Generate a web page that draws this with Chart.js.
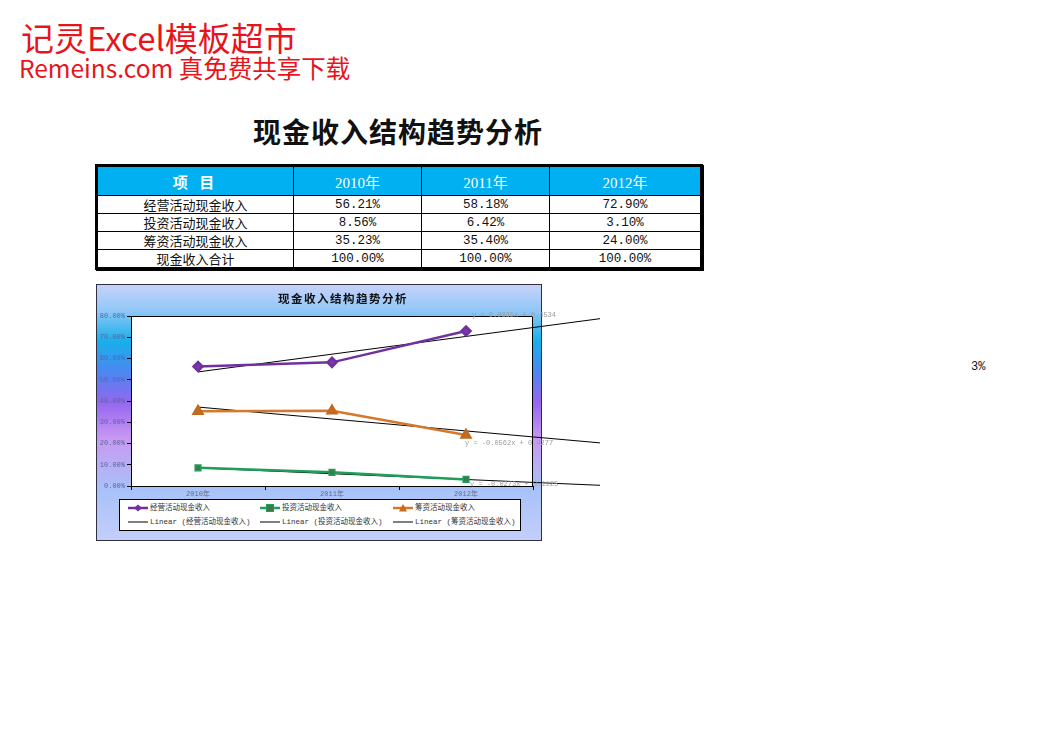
<!DOCTYPE html>
<html>
<head>
<meta charset="utf-8">
<script src="https://cdn.jsdelivr.net/npm/chart.js@4.4.1/dist/chart.umd.min.js"></script>
<style>
  body { margin:0; width:1058px; height:755px; background:#fff; position:relative; overflow:hidden; font-family:"Noto Sans CJK SC", sans-serif; }
  .brand1 { position:absolute; left:21px; top:21px; font-size:33px; color:#e8141c; line-height:33px; white-space:nowrap; }
  .brand2 { position:absolute; left:19px; top:56px; font-size:24.5px; color:#e8141c; line-height:24px; white-space:nowrap; }
  .title { position:absolute; left:253px; top:112px; font-size:28px; font-weight:bold; color:#111; line-height:38px; white-space:nowrap; letter-spacing:1px; }
  #tbl { position:absolute; left:95px; top:164px; border-collapse:collapse; table-layout:fixed; border:3px solid #000; box-shadow:1px 1px 0 #000; }
  #tbl th { background:#00b0f0; color:#fff; font-weight:normal; height:28px; font-size:15px; font-family:"Liberation Serif","Noto Sans CJK SC",serif; border:1px solid #000; padding:0; }
  #tbl th.first { font-family:"Noto Sans CJK SC"; font-weight:bold; letter-spacing:4px; }
  #tbl td { height:17px; padding:0; border:1px solid #000; text-align:center; font-size:13px; line-height:16px; color:#111; }
  #tbl td.num { font-family:"Liberation Mono", monospace; font-size:12.5px; }
  #wrap { position:absolute; left:96px; top:284px; width:514px; height:262px; }
  #legend { position:absolute; left:119px; top:499px; width:400px; height:30px; background:#fff; border:1px solid #000; }
  .li { position:absolute; font-size:7.5px; color:#333; font-family:"Liberation Mono","Noto Sans CJK SC",monospace; white-space:nowrap; line-height:10px; }
  .li svg { position:absolute; left:0; top:0; }
  .li span { position:absolute; left:22px; top:0; }
  .three { position:absolute; left:971px; top:360px; font-family:"Liberation Mono", monospace; font-size:12px; color:#111; }
</style>
</head>
<body>
<div class="brand1">记灵Excel模板超市</div>
<div class="brand2">Remeins.com 真免费共享下载</div>
<div class="title">现金收入结构趋势分析</div>
<table id="tbl"></table>
<div id="wrap"><canvas id="mycanvas" width="514" height="262"></canvas></div>
<div id="legend"></div>
<div class="three">3%</div>
<script>
// table / chart data
var years = ['2010年', '2011年', '2012年'];
var items = ['经营活动现金收入', '投资活动现金收入', '筹资活动现金收入', '现金收入合计'];
var operating = [56.21, 58.18, 72.90];
var investing = [8.56, 6.42, 3.10];
var financing = [35.23, 35.40, 24.00];
var totals = [100.00, 100.00, 100.00];

// linear trendlines, start at 2010 and run one period past 2012 (x = 1 and x = 4)
var trendX = [1, 4];
var operatingTrend = [53.69, 78.74];
var investingTrend = [8.52, 0.33];
var financingTrend = [37.15, 20.29];
var trendLabels = ['y = 0.0835x + 0.4534', 'y = -0.0562x + 0.4277', 'y = -0.0273x + 0.1125'];

var colors = ['#7030a0', '#1f9e5a', '#d4782c'];

// build the table
var colW = [197, 128, 128, 152];
var html = '<colgroup>';
colW.forEach(function (w) { html += '<col style="width:' + w + 'px">'; });
html += '</colgroup><tr><th class="first">项 目</th>';
years.forEach(function (y) { html += '<th>' + y + '</th>'; });
html += '</tr>';
var rows = [operating, investing, financing, totals];
for (var r = 0; r < rows.length; r++) {
  html += '<tr><td>' + items[r] + '</td>';
  for (var c = 0; c < years.length; c++) {
    html += '<td class="num">' + rows[r][c].toFixed(2) + '%</td>';
  }
  html += '</tr>';
}
document.getElementById('tbl').innerHTML = html;

// legend
var markers = [
  '<polygon points="10,1.5 14,5 10,8.5 6,5" fill="#7030a0"/>',
  '<rect x="6.5" y="1.5" width="7" height="7" fill="#3c7a4c" stroke="#1f9e5a"/>',
  '<polygon points="10,1 14,8.5 6,8.5" fill="#c86a20"/>'
];
var legendHtml = '';
var colX = [8, 140, 273];
for (var i = 0; i < 3; i++) {
  legendHtml += '<div class="li" style="left:' + colX[i] + 'px;top:3px">' +
    '<svg width="20" height="10"><line x1="0" y1="5" x2="20" y2="5" stroke="' + colors[i] + '" stroke-width="2.5"/>' + markers[i] + '</svg>' +
    '<span>' + items[i] + '</span></div>';
  legendHtml += '<div class="li" style="left:' + colX[i] + 'px;top:17px">' +
    '<svg width="20" height="10"><line x1="0" y1="5" x2="20" y2="5" stroke="#000" stroke-width="1"/></svg>' +
    '<span>Linear (' + items[i] + ')</span></div>';
}
document.getElementById('legend').innerHTML = legendHtml;

// background box, plot area and trendline equations
var boxPlugin = {
  id: 'box',
  beforeDraw: function (chart) {
    var ctx = chart.ctx, a = chart.chartArea;
    var W = 446, H = 257;
    var g = ctx.createLinearGradient(0, 0, 0, H);
    g.addColorStop(0, '#c8d2fa');
    g.addColorStop(0.1, '#94c8f8');
    g.addColorStop(0.22, '#18b0ea');
    g.addColorStop(0.34, '#4a88f0');
    g.addColorStop(0.46, '#9466f0');
    g.addColorStop(0.6, '#c898f2');
    g.addColorStop(0.8, '#a8c2f8');
    g.addColorStop(1, '#c4cefa');
    ctx.save();
    ctx.fillStyle = g;
    ctx.fillRect(0, 0, W, H);
    ctx.strokeStyle = '#303040';
    ctx.lineWidth = 1;
    ctx.strokeRect(0.5, 0.5, W - 1, H - 1);
    ctx.fillStyle = '#fff';
    ctx.fillRect(a.left, a.top, a.right - a.left, a.bottom - a.top);
    ctx.fillStyle = '#111';
    ctx.font = 'bold 11.5px "Noto Sans CJK SC"';
    ctx.letterSpacing = '1.5px';
    ctx.textBaseline = 'middle';
    ctx.fillText('现金收入结构趋势分析', 182, 15);
    ctx.restore();
  },
  afterDraw: function (chart) {
    var ctx = chart.ctx, a = chart.chartArea;
    ctx.save();
    ctx.strokeStyle = '#000';
    ctx.lineWidth = 1;
    ctx.strokeRect(a.left + 0.5, a.top + 0.5, a.right - a.left - 1, a.bottom - a.top);
    ctx.font = '7px "Liberation Mono", monospace';
    ctx.fillStyle = '#9a9a9a';
    ctx.textBaseline = 'middle';
    ctx.fillText(trendLabels[0], 376, 31);
    ctx.fillText(trendLabels[1], 369, 159);
    ctx.fillText(trendLabels[2], 374, 200);
    ctx.restore();
  }
};

function trendData(vals) {
  return trendX.map(function (x, k) { return { x: x, y: vals[k] }; });
}

var ctx = document.getElementById('mycanvas');
var chart = new Chart(ctx, {
  type: 'line',
  data: {
    labels: years,
    datasets: [
      { label: items[0], data: operating, borderColor: colors[0], backgroundColor: '#7030a0', borderWidth: 2.5,
        pointStyle: 'rectRot', pointRadius: 4.5, pointBorderColor: '#7030a0', pointBackgroundColor: '#7a3aa8', xAxisID: 'x' },
      { label: items[1], data: investing, borderColor: colors[1], borderWidth: 2.5,
        pointStyle: 'rect', pointRadius: 4, pointBorderColor: '#1f9e5a', pointBackgroundColor: '#3c7a4c', pointBorderWidth: 1.5, xAxisID: 'x' },
      { label: items[2], data: financing, borderColor: colors[2], borderWidth: 2.5,
        pointStyle: 'triangle', pointRadius: 5, pointBorderColor: '#c06a20', pointBackgroundColor: '#c86a20', xAxisID: 'x' },
      { label: 'Linear (' + items[0] + ')', data: trendData(operatingTrend), borderColor: '#000', borderWidth: 1, pointRadius: 0, xAxisID: 'x2', clip: false },
      { label: 'Linear (' + items[1] + ')', data: trendData(investingTrend), borderColor: '#000', borderWidth: 1, pointRadius: 0, xAxisID: 'x2', clip: false },
      { label: 'Linear (' + items[2] + ')', data: trendData(financingTrend), borderColor: '#000', borderWidth: 1, pointRadius: 0, xAxisID: 'x2', clip: false }
    ]
  },
  options: {
    responsive: false,
    animation: false,
    devicePixelRatio: 1,
    layout: { padding: { left: 0, top: 32, right: 77, bottom: 46 } },
    plugins: { legend: { display: false }, tooltip: { enabled: false } },
    scales: {
      x: {
        type: 'category',
        offset: true,
        grid: { offset: true, drawOnChartArea: false, color: '#000', tickLength: 4 },
        border: { color: '#000' },
        ticks: { color: '#6a6a88', font: { size: 7, family: '"Liberation Mono","Noto Sans CJK SC"' }, padding: 0 },
        afterFit: function (s) { s.height = 14; }
      },
      x2: { type: 'linear', display: false, min: 0.5, max: 3.5 },
      y: {
        min: 0, max: 80,
        ticks: { stepSize: 10, color: '#5a66a0', font: { size: 7, family: '"Liberation Mono", monospace' }, padding: 2,
          callback: function (v) { return v.toFixed(2) + '%'; } },
        grid: { drawOnChartArea: false, color: '#000', tickLength: 4 },
        border: { color: '#000' },
        afterFit: function (s) { s.width = 35; }
      }
    }
  },
  plugins: [boxPlugin]
});
</script>
</body>
</html>
